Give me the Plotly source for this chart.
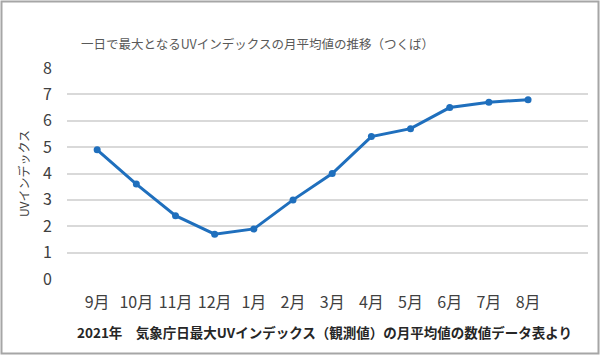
import plotly.graph_objects as go

months = ["9月", "10月", "11月", "12月", "1月", "2月", "3月", "4月", "5月", "6月", "7月", "8月"]
uv_index = [4.9, 3.6, 2.4, 1.7, 1.9, 3.0, 4.0, 5.4, 5.7, 6.5, 6.7, 6.8]
y_ticks = [0, 1, 2, 3, 4, 5, 6, 7, 8]

title_text = "一日で最大となるUVインデックスの月平均値の推移（つくば）"
y_title = "UVインデックス"
note_text = "2021年　気象庁日最大UVインデックス（観測値）の月平均値の数値データ表より"

W, H = 600, 355
L, R, T, B = 67, 12, 68, 76
pw, ph = W - L - R, H - T - B

def px(x):
    return (x - L) / pw

def py(y):
    return (H - B - y) / ph

font = "Noto Sans CJK JP"
idx = list(range(len(months)))

fig = go.Figure()
fig.add_trace(go.Scatter(
    x=idx, y=uv_index, mode="lines+markers",
    line=dict(color="#1f6fbd", width=3),
    marker=dict(color="#1f6fbd", size=7),
    hoverinfo="skip", showlegend=False,
))

fig.update_layout(
    width=W, height=H,
    margin=dict(l=L, r=R, t=T, b=B),
    paper_bgcolor="white", plot_bgcolor="white",
    font=dict(family=font, color="#404040"),
    xaxis=dict(
        range=[-0.77, 12.53], tickmode="array", tickvals=idx, ticktext=months,
        showgrid=False, zeroline=False, showline=False,
        tickfont=dict(size=16, color="#404040"), ticks="", ticklabelstandoff=12,
    ),
    yaxis=dict(
        range=[0, 8], tickmode="array", tickvals=y_ticks,
        showgrid=True, gridcolor="#d9d9d9", gridwidth=1.5, zeroline=False,
        showline=False, tickfont=dict(size=16, color="#404040"), ticks="",
        ticklabelstandoff=14,
        title=dict(text=y_title, font=dict(size=12, color="#404040"), standoff=10),
    ),
    shapes=[dict(
        type="rect", xref="paper", yref="paper",
        x0=px(1.5), x1=px(W - 1.5), y0=py(H - 1.5), y1=py(1.5),
        line=dict(color="#a6a6a6", width=2), fillcolor="rgba(0,0,0,0)", layer="below",
    )],
    annotations=[
        dict(text=title_text, xref="paper", yref="paper", x=px(257), y=py(43),
             showarrow=False, xanchor="center", yanchor="middle",
             font=dict(size=12.5, color="#595959", family=font)),
        dict(text="<b>" + note_text + "</b>", xref="paper", yref="paper", x=px(324), y=py(332),
             showarrow=False, xanchor="center", yanchor="middle",
             font=dict(size=13.5, color="#262626", family=font)),
    ],
)

fig.write_html("out.html", config={"displayModeBar": False},
               post_script="document.body.style.margin='0';")
